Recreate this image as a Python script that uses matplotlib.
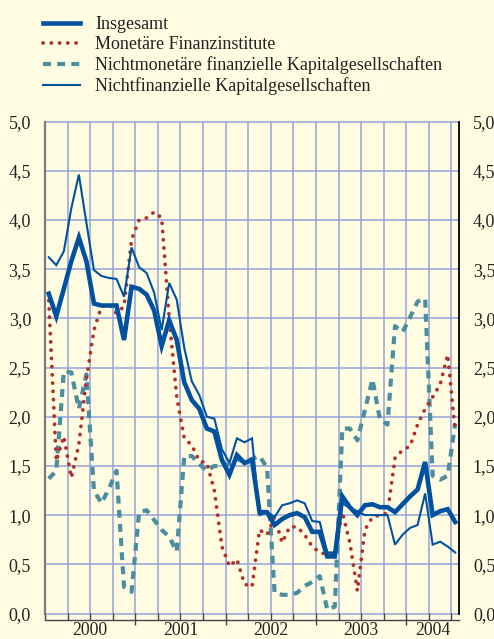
import numpy as np
import matplotlib
matplotlib.use("Agg")
import matplotlib.pyplot as plt
from matplotlib.lines import Line2D

# ---- data (monthly, Jan 2000 - Jul 2004) ----
months = np.arange(55) + 0.5

insgesamt = [3.25, 3.02, 3.30, 3.58, 3.82, 3.58, 3.15, 3.13, 3.13, 3.13,
             2.78, 3.32, 3.30, 3.24, 3.08, 2.72, 2.98, 2.78, 2.35, 2.17,
             2.08, 1.88, 1.85, 1.56, 1.41, 1.61, 1.53, 1.56, 1.03, 1.03,
             0.90, 0.96, 1.00, 1.02, 0.98, 0.83, 0.83, 0.58, 0.58, 1.19,
             1.08, 1.00, 1.10, 1.11, 1.08, 1.08, 1.03, 1.11, 1.19, 1.26,
             1.54, 1.00, 1.04, 1.06, 0.93]

monetaer = [3.18, 1.55, 1.80, 1.38, 1.72, 2.38, 2.88, 3.12, 3.14, 3.05,
            3.12, 3.80, 4.00, 4.02, 4.08, 4.02, 3.00, 2.20, 1.78, 1.71,
            1.55, 1.53, 1.25, 0.68, 0.48, 0.55, 0.30, 0.27, 0.85, 0.80,
            0.98, 0.72, 0.88, 0.88, 0.80, 0.68, 0.62, 0.60, 0.62, 1.03,
            0.72, 0.23, 0.85, 0.98, 1.00, 1.02, 1.58, 1.66, 1.70, 1.92,
            2.08, 2.20, 2.33, 2.63, 1.85]

nichtmonetaer = [1.37, 1.45, 2.46, 2.45, 2.08, 2.43, 1.25, 1.12, 1.27, 1.45,
                 0.27, 0.22, 1.03, 1.05, 0.95, 0.85, 0.78, 0.63, 1.60, 1.60,
                 1.52, 1.45, 1.50, 1.49, 1.52, 1.57, 1.54, 1.57, 1.60, 1.48,
                 0.21, 0.19, 0.19, 0.21, 0.28, 0.32, 0.38, 0.04, 0.07, 1.88,
                 1.88, 1.76, 2.07, 2.38, 1.97, 1.92, 2.92, 2.86, 3.01, 3.17,
                 3.20, 1.40, 1.36, 1.40, 1.93]

nichtfinanziell = [3.62, 3.54, 3.68, 4.12, 4.46, 3.97, 3.49, 3.43, 3.41, 3.40,
                   3.22, 3.72, 3.52, 3.46, 3.26, 2.88, 3.36, 3.19, 2.70, 2.36,
                   2.22, 2.00, 1.98, 1.67, 1.53, 1.78, 1.74, 1.78, 1.00, 1.03,
                   0.98, 1.10, 1.12, 1.15, 1.12, 0.94, 0.93, 0.62, 0.62, 1.12,
                   1.07, 1.04, 1.00, 1.00, 1.00, 1.00, 0.70, 0.80, 0.87, 0.90,
                   1.22, 0.70, 0.73, 0.68, 0.62]

labels = ["Insgesamt", "Monetäre Finanzinstitute",
          "Nichtmonetäre finanzielle Kapitalgesellschaften",
          "Nichtfinanzielle Kapitalgesellschaften"]
years = ["2000", "2001", "2002", "2003", "2004"]
year_centers = [6, 18, 30, 42, 51.5]
year_bounds = [12, 24, 36, 48]
yticks = [0.0, 0.5, 1.0, 1.5, 2.0, 2.5, 3.0, 3.5, 4.0, 4.5, 5.0]

# ---- style ----
BG = "#FFFCE1"
GRID = "#95A3D8"
BLUE = "#0052A0"
RED = "#B0302C"
TEAL = "#4B8EA0"
TXT = "#222222"

plt.rcParams["font.family"] = ["Liberation Serif", "DejaVu Serif"]
plt.rcParams["font.size"] = 12.5

W, H = 494, 639
fig = plt.figure(figsize=(W / 100, H / 100), dpi=100, facecolor=BG)
ax = fig.add_axes([45 / W, 1 - 613.5 / H, (459 - 45) / W, (613.5 - 121.5) / H])
ax.set_facecolor(BG)

ax.set_xlim(0.2, 55)
ax.set_ylim(0, 5.0)

# grid
for q in np.arange(3, 55, 3):
    ax.axvline(q, color=GRID, lw=1.1, zorder=1)
for yv in yticks:
    ax.axhline(yv, color=GRID, lw=1.1, zorder=1, clip_on=False)

# series
ax.plot(months, nichtmonetaer, color=TEAL, lw=3.0, linestyle=(0, (1.9, 1.5)),
        solid_capstyle="butt", dash_capstyle="butt", zorder=3)
ax.plot(months, monetaer, color=RED, lw=2.7, linestyle=(0, (0.05, 2.15)),
        dash_capstyle="round", zorder=4)
ax.plot(months, nichtfinanziell, color=BLUE, lw=1.5, zorder=5,
        solid_joinstyle="miter")
ax.plot(months, insgesamt, color=BLUE, lw=3.3, zorder=6,
        solid_joinstyle="miter")

# spines
ax.spines["top"].set_visible(False)
ax.spines["left"].set_color("#7C7C7C")
ax.spines["left"].set_linewidth(1.6)
ax.spines["right"].set_color("black")
ax.spines["right"].set_linewidth(1.3)
ax.spines["bottom"].set_position(("outward", 5))
ax.spines["bottom"].set_color("#444444")
ax.spines["bottom"].set_linewidth(1.0)

# y axis labels on both sides
ax.set_yticks(yticks)
ax.set_yticklabels([f"{v:.1f}".replace(".", ",") for v in yticks])
ax.tick_params(axis="y", which="both", length=0, pad=10,
               labelleft=True, labelright=True, labelsize=13, colors=TXT)

# x axis: quarter ticks inward, year labels centered
ax.xaxis.remove_overlapping_locs = False
ax.set_xticks(np.arange(0, 55, 3))
ax.set_xticklabels([])
ax.tick_params(axis="x", which="major", direction="in", length=5,
               width=1.0, color="#444444")
ax.set_xticks(year_centers, minor=True)
ax.set_xticklabels(years, minor=True)
ax.tick_params(axis="x", which="minor", length=0, pad=1.0, labelsize=12.8,
               colors=TXT)

sec = ax.secondary_xaxis(-5 / (613.5 - 121.5))
sec.set_xticks(year_bounds)
sec.set_xticklabels([])
sec.tick_params(direction="out", length=4, width=1.0, color="#444444")
sec.spines["bottom"].set_visible(False)

# legend
handles = [
    Line2D([], [], color=BLUE, lw=3.3),
    Line2D([], [], color=RED, lw=2.7, linestyle=(0, (0.05, 2.15)),
           dash_capstyle="round"),
    Line2D([], [], color=TEAL, lw=3.0, linestyle=(0, (1.9, 1.5))),
    Line2D([], [], color=BLUE, lw=1.5),
]
fig.legend(handles, labels, loc="upper left",
           bbox_to_anchor=(43 / W, 1 - 16 / H), frameon=False,
           handlelength=2.05, handletextpad=0.85, labelspacing=0.17,
           borderpad=0, borderaxespad=0, fontsize=13, labelcolor=TXT)

fig.savefig("out.png", dpi=100, facecolor=BG)
